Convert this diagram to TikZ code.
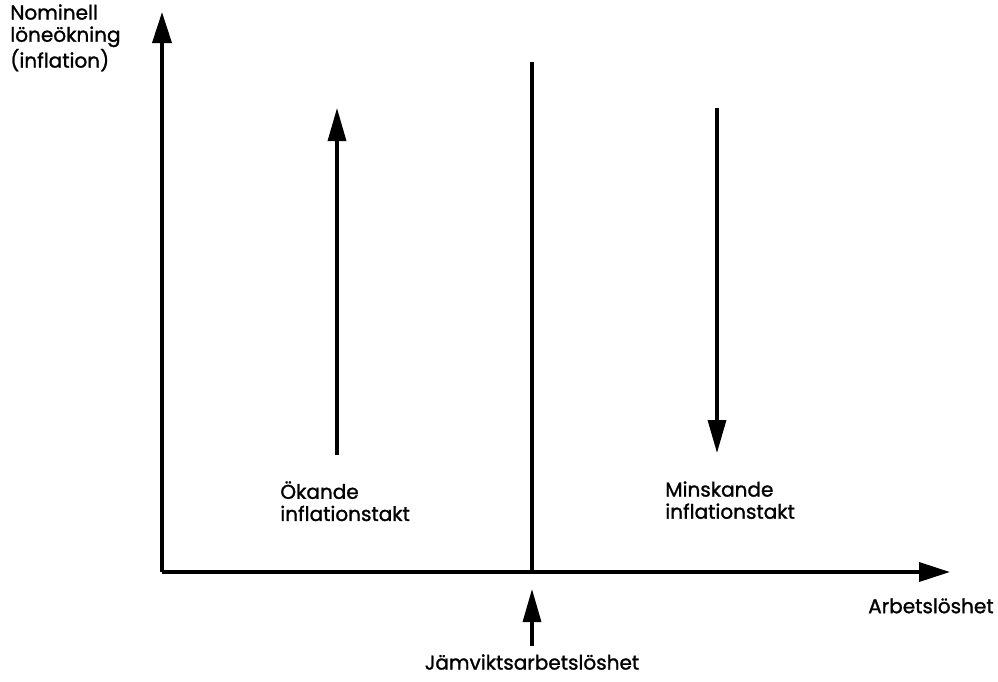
\documentclass[tikz,border=0pt]{standalone}
\usepackage{fontspec}
\setmainfont{Poppins}[FakeBold=1.3]
\usepackage{tikz}
\usetikzlibrary{arrows.meta, positioning}

\begin{document}
\begin{tikzpicture}[
    x=0.02cm, y=-0.02cm,
    % Styles
    axis/.style={line width=2.1pt, -{Triangle[length=0.62cm, width=0.38cm]}},
    trend/.style={line width=1.9pt, -{Triangle[length=0.66cm, width=0.36cm]}},
    txt/.style={font=\fontsize{11.4}{12.6}\selectfont, align=left, inner sep=0pt},
    level/.style={line width=1.9pt}
]
\useasboundingbox (0,0) rectangle (998,681);

% === AXES ===
\coordinate (origin) at (162,572);
\coordinate (ytop) at (162,12);
\coordinate (xend) at (950,572);
\draw [axis] (origin) -- (ytop);
\draw [axis] (origin) -- (xend);

% === EQUILIBRIUM LINE ===
\coordinate (eqtop) at (532,62);
\coordinate (eqbot) at (532,572);
\draw [level] (eqbot) -- (eqtop);

% === TREND ARROWS ===
\coordinate (upfrom) at (337,455);
\coordinate (upto) at (337,108);
\coordinate (downfrom) at (717,108);
\coordinate (downto) at (717,453);
\draw [trend] (upfrom) -- (upto);
\draw [trend] (downfrom) -- (downto);

% === LABELS ===
\node (ylabel) [txt, anchor=north west] at (10,4) {Nominell\\löneökning\\(inflation)};
\node (xlabel) [txt, anchor=north east] at (994,598) {Arbetslöshet};
\node (rise) [txt, anchor=north west] at (280,481) {Ökande\\inflationstakt};
\node (fall) [txt, anchor=north west] at (665,481) {Minskande\\inflationstakt};
\node (eqlabel) [txt, anchor=north] at (532,654) {Jämviktsarbetslöshet};

% Marker pointing up at the equilibrium level
\coordinate (eqmark) at (532,646);
\draw [trend] (eqmark) -- ++(0,-57);

\end{tikzpicture}
\end{document}
